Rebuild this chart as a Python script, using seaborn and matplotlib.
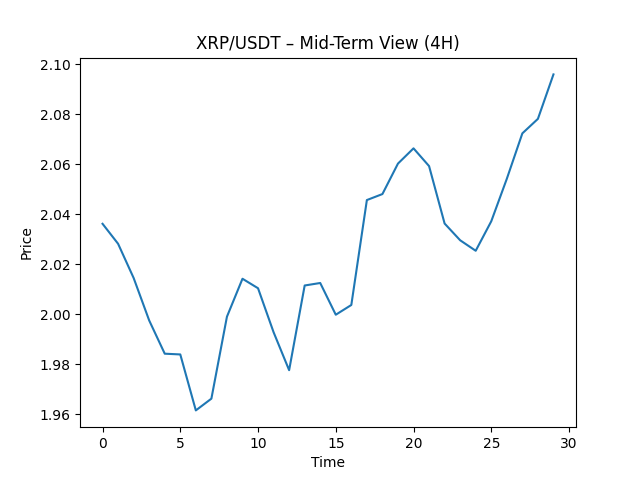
import numpy as np
import matplotlib
matplotlib.use('Agg')
import matplotlib.pyplot as plt
import seaborn as sns

# 4H closes
time = list(range(30))
price = [2.0362, 2.0282, 2.0145, 1.9975, 1.9842, 1.9839, 1.9615, 1.9662, 1.9990, 2.0142,
         2.0104, 1.9928, 1.9776, 2.0115, 2.0125, 1.9998, 2.0037, 2.0457, 2.0481, 2.0603,
         2.0664, 2.0593, 2.0363, 2.0296, 2.0254, 2.0372, 2.0542, 2.0724, 2.0782, 2.0960]

fig, ax = plt.subplots(figsize=(6.4, 4.8), dpi=100)
sns.lineplot(x=time, y=price, ax=ax)
ax.set_title('XRP/USDT – Mid-Term View (4H)')
ax.set_xlabel('Time')
ax.set_ylabel('Price')
fig.savefig('out.png')
